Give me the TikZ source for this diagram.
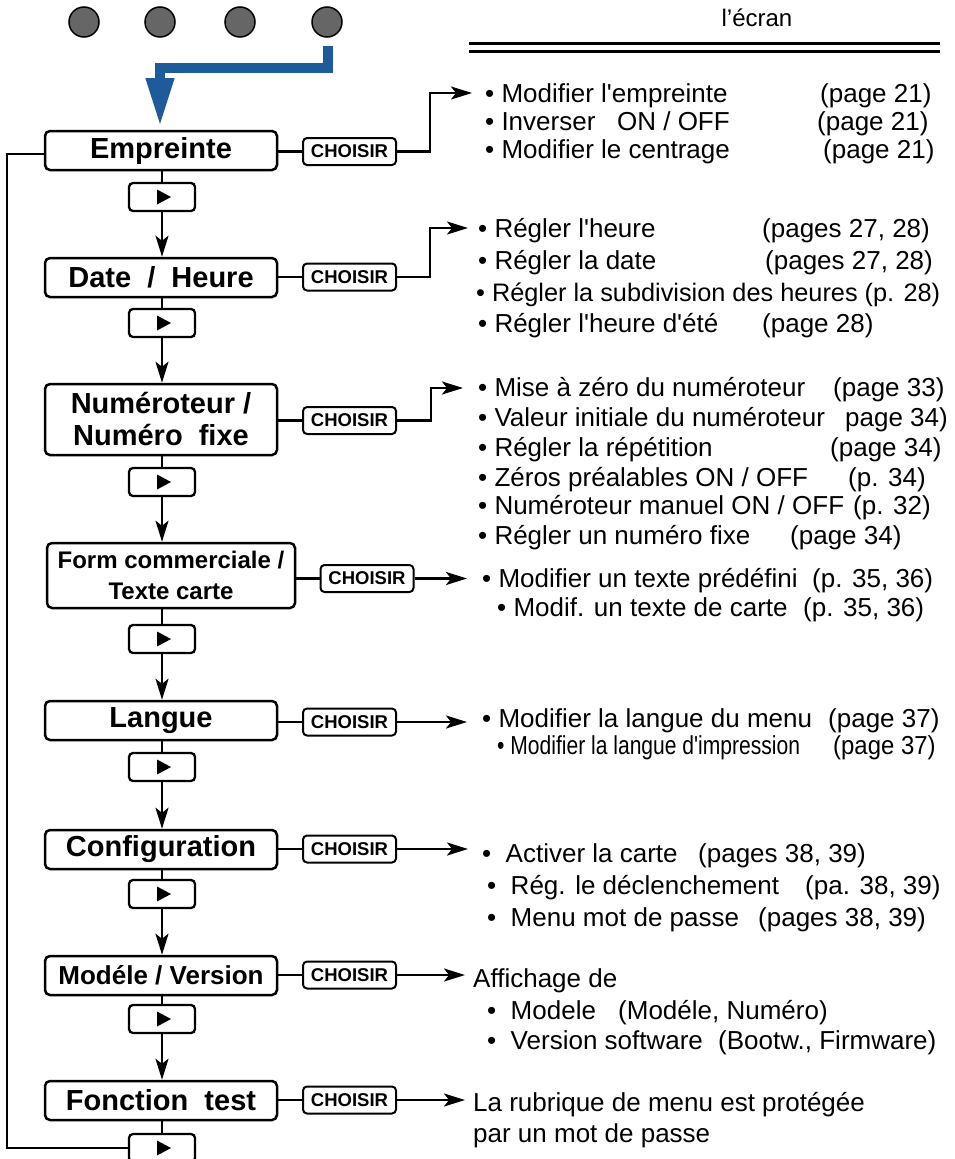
\documentclass[tikz,border=0pt]{standalone}
\usepackage{fontspec}
\setmainfont{Liberation Sans}[Ligatures=TeXOff]
\usetikzlibrary{arrows.meta}
\definecolor{keygray}{HTML}{666666}
\definecolor{keyblue}{HTML}{1F5A9A}
% small play triangle inside a step button
\newcommand\playmark[1]{\fill ([shift={(-5pt,7.5pt)}]#1.center) -- ([shift={(-5pt,-7.5pt)}]#1.center) -- ([shift={(9pt,0pt)}]#1.center) -- cycle;}
\begin{document}
\begin{tikzpicture}[x=1pt,y=-1pt,
  menubox/.style={draw, line width=2.5pt, rounded corners=5pt, minimum width=232pt,
    minimum height=39pt, inner sep=0pt, align=center,
    font=\bfseries\fontsize{29}{32}\selectfont},
  choisir/.style={draw, line width=2pt, rounded corners=4pt, minimum width=93pt,
    minimum height=27pt, inner sep=0pt, font=\bfseries\fontsize{18.5}{20}\selectfont},
  playbox/.style={draw, line width=2.3pt, rounded corners=4pt, minimum width=66pt,
    minimum height=28pt, inner sep=0pt},
  keydot/.style={circle, draw, line width=1.5pt, fill=keygray, minimum size=30pt, inner sep=0pt},
  link/.style={line width=2.3pt},
  arr/.style={link, -{Stealth[length=21pt,width=13pt,inset=5pt]}},
  item/.style={anchor=base west, inner sep=0pt, font=\fontsize{26}{30}\selectfont},
]
\useasboundingbox (0,0) rectangle (955,1159);

% keys of the keypad
\node[keydot] (k1) at (84,22) {};
\node[keydot] (k2) at (160,22) {};
\node[keydot] (k3) at (240,22) {};
\node[keydot] (k4) at (327,22) {};

% heading of the right column
\node[anchor=base, inner sep=0pt, font=\fontsize{24}{28}\selectfont] (hd) at (757,27) {l’écran};
\draw[line width=3pt] (469,43.5) -- (940,43.5);
\draw[line width=3pt] (469,51.5) -- (940,51.5);

% menu entries
\node[menubox] (emp) at (161,150.5) {Empreinte};
\node[menubox] (date) at (161,277.5) {Date\ \ /\ \ Heure};
\node[menubox, minimum height=71pt] (num) at (161,419.5) {Numéroteur /\\Numéro\ \ fixe};
\node[menubox, minimum width=248pt, minimum height=65pt,
      font=\bfseries\fontsize{24}{31}\selectfont] (form) at (171,575.5) {Form commerciale /\\Texte carte};
\node[menubox] (lang) at (161,720.5) {Langue};
\node[menubox] (conf) at (161,849.5) {Configuration};
\node[menubox, font=\bfseries\fontsize{26}{30}\selectfont] (mod) at (161,975.5) {Modéle / Version};
\node[menubox] (fonc) at (161,1100.5) {Fonction\ \ test};

% step buttons
\node[playbox] (p1) at (162,197) {};
\node[playbox] (p2) at (162,323) {};
\node[playbox] (p3) at (162,482) {};
\node[playbox] (p4) at (162,639) {};
\node[playbox] (p5) at (162,767) {};
\node[playbox] (p6) at (162,894) {};
\node[playbox] (p7) at (162,1019) {};
\node[playbox] (p8) at (162,1148) {};
\foreach \p in {p1,p2,p3,p4,p5,p6,p7,p8}{\playmark{\p}}

% select buttons
\node[choisir] (c1) at (349.5,151.5) {CHOISIR};
\node[choisir] (c2) at (349.5,277) {CHOISIR};
\node[choisir] (c3) at (349.5,420.5) {CHOISIR};
\node[choisir] (c4) at (367,578.5) {CHOISIR};
\node[choisir] (c5) at (349.5,722) {CHOISIR};
\node[choisir] (c6) at (349.5,849) {CHOISIR};
\node[choisir] (c7) at (349.5,975) {CHOISIR};
\node[choisir] (c8) at (349.5,1100) {CHOISIR};

% blue entry arrow from the fourth key
\coordinate (bs) at (328,46);
\coordinate (bc) at (160,68);
\coordinate (bt) at (160,127);
\draw[keyblue, line width=10pt, -{Triangle[length=49pt,width=26pt]}] (bs) |- (bc) -- (bt);

% vertical flow through the step buttons
\foreach \m/\p/\n in {emp/p1/date, date/p2/num, num/p3/form, form/p4/lang, lang/p5/conf, conf/p6/mod, mod/p7/fonc}{
  \draw[link] (\p.north |- \m.south) -- (\p.north);
  \draw[arr] (\p.south) -- (\p.south |- \n.north);
}
\draw[link] (p8.north |- fonc.south) -- (p8.north);

% loop back to the first entry
\coordinate (lc) at (7,154);
\draw[link] (p8.west) -| (lc) -- (lc -| emp.west);

% links to the select buttons
\foreach \m/\c in {emp/c1, date/c2, num/c3, form/c4, lang/c5, conf/c6, mod/c7, fonc/c8}{
  \draw[link] (\m.east |- \c.west) -- (\c.west);
}

% arrow ends at the option lists
\coordinate (t1) at (472,93);
\coordinate (t2) at (468,228);
\coordinate (t3) at (463,388);
\coordinate (t4) at (467,578.5);
\coordinate (t5) at (467,722);
\coordinate (t6) at (468,849);
\coordinate (t7) at (465,975);
\coordinate (t8) at (465,1100);
\draw[arr] (c1.east) -- ++(33,0) |- (t1);
\draw[arr] (c2.east) -- ++(33,0) |- (t2);
\draw[arr] (c3.east) -- ++(34,0) |- (t3);
\draw[arr] (c4.east) -- (t4);
\draw[arr] (c5.east) -- (t5);
\draw[arr] (c6.east) -- (t6);
\draw[arr] (c7.east) -- (t7);
\draw[arr] (c8.east) -- (t8);

% options of Empreinte
\node[item] (e1) at (485,102) {• Modifier l'empreinte};
\node[item] (e1p) at (820,102) {(page 21)};
\node[item] (e2) at (485,130) {• Inverser\ \ \ ON / OFF};
\node[item] (e2p) at (817,130) {(page 21)};
\node[item] (e3) at (485,158) {• Modifier le centrage};
\node[item] (e3p) at (823,158) {(page 21)};

% options of Date / Heure
\node[item] (d1) at (478,237) {• Régler l'heure};
\node[item] (d1p) at (762,237) {(pages 27, 28)};
\node[item] (d2) at (478,269) {• Régler la date};
\node[item] (d2p) at (765,269) {(pages 27, 28)};
\node[item, font=\fontsize{25.3}{30}\selectfont] (d3) at (476,301) {• Régler la subdivision des heures (p. 28)};
\node[item] (d4) at (478,332) {• Régler l'heure d'été};
\node[item] (d4p) at (762,332) {(page 28)};

% options of Numéroteur
\node[item] (n1) at (478,396) {• Mise à zéro du numéroteur};
\node[item] (n1p) at (833,396) {(page 33)};
\node[item] (n2) at (478,426) {• Valeur initiale du numéroteur};
\node[item] (n2p) at (845,426) {page 34)};
\node[item] (n3) at (478,456) {• Régler la répétition};
\node[item] (n3p) at (830,456) {(page 34)};
\node[item] (n4) at (478,486) {• Zéros préalables ON / OFF};
\node[item] (n4p) at (848,486) {(p. 34)};
\node[item] (n5) at (478,514) {• Numéroteur manuel ON / OFF};
\node[item] (n5p) at (853,514) {(p. 32)};
\node[item] (n6) at (478,544) {• Régler un numéro fixe};
\node[item] (n6p) at (790,544) {(page 34)};

% options of Form commerciale
\node[item] (f1) at (482,587) {• Modifier un texte prédéfini};
\node[item] (f1p) at (812,587) {(p. 35, 36)};
\node[item] (f2) at (497,616) {• Modif. un texte de carte};
\node[item] (f2p) at (803,616) {(p. 35, 36)};

% options of Langue
\node[item] (l1) at (482,727) {• Modifier la langue du menu};
\node[item] (l1p) at (828,727) {(page 37)};
\node[item] (l2) at (497,754) {\scalebox{0.81}[1]{• Modifier la langue d'impression}};
\node[item] (l2p) at (833,754) {\scalebox{0.92}[1]{(page 37)}};

% options of Configuration
\node[item] (g1) at (482,862) {•\ \ Activer la carte};
\node[item] (g1p) at (698,862) {(pages 38, 39)};
\node[item] (g2) at (487,894) {•\ \ Rég. le déclenchement};
\node[item] (g2p) at (805,894) {(pa. 38, 39)};
\node[item] (g3) at (487,926) {•\ \ Menu mot de passe};
\node[item] (g3p) at (758,926) {(pages 38, 39)};

% Modéle / Version
\node[item] (v0) at (473,987) {Affichage de};
\node[item] (v1) at (487,1019) {•\ \ Modele};
\node[item] (v1p) at (618,1019) {(Modéle, Numéro)};
\node[item] (v2) at (487,1049) {•\ \ Version software};
\node[item] (v2p) at (718,1049) {(Bootw., Firmware)};

% Fonction test
\node[item] (x1) at (473,1111) {La rubrique de menu est protégée};
\node[item] (x2) at (473,1142) {par un mot de passe};
\end{tikzpicture}
\end{document}
